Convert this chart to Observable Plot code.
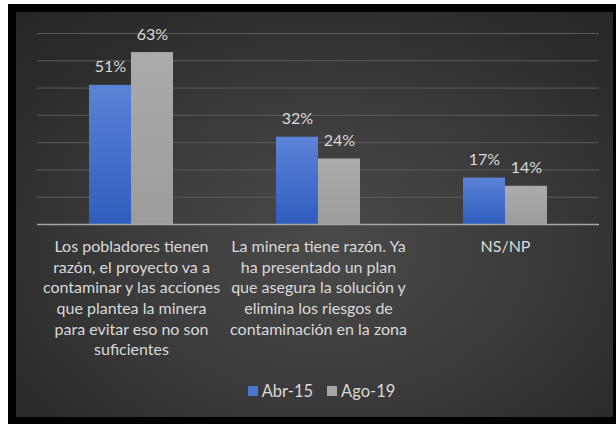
<!DOCTYPE html>
<html>
<head>
<meta charset="utf-8">
<script src="https://cdn.jsdelivr.net/npm/d3@7"></script>
<script src="https://cdn.jsdelivr.net/npm/@observablehq/plot@0.6"></script>
<style>
  html, body { margin: 0; padding: 0; background: #ffffff; width: 616px; height: 424px; overflow: hidden; }
  #frame { position: absolute; left: 8px; top: 4px; width: 608px; height: 420px; background: #000; }
  #panel { position: absolute; left: 16px; top: 12px; width: 597px; height: 405px;
    background: radial-gradient(ellipse 75% 80% at 52% 58%, #4a4a4a 0%, #3d3d3d 40%, #2c2c2c 80%, #262626 100%); }
  #chart { position: absolute; left: 0; top: 0; }
  #legend { position: absolute; left: 0; top: 381px; width: 616px; display: flex; justify-content: center;
    font-family: Lato, sans-serif; font-size: 16.5px; color: #d9d9d9; padding-left: 27px; box-sizing: border-box; }
  .item { display: flex; align-items: center; margin: 0 7px; }
  .sw { width: 10px; height: 10px; margin-right: 4px; }
</style>
</head>
<body>
<div id="frame"></div>
<div id="panel"></div>
<div id="chart"></div>
<div id="legend"></div>
<script>
const categories = [
  "Los pobladores tienen\nrazón, el proyecto va a\ncontaminar y las acciones\nque plantea la minera\npara evitar eso no son\nsuficientes",
  "La minera tiene razón. Ya\nha presentado un plan\nque asegura la solución y\nelimina los riesgos de\ncontaminación en la zona",
  "NS/NP"
];
const series = ["Abr-15", "Ago-19"];
const abr15 = [51, 32, 17];
const ago19 = [63, 24, 14];
const yTicks = [10, 20, 30, 40, 50, 60, 70];
const colors = ["#4a75cf", "#a6a6a6"];

const rowsA = categories.map((c, i) => ({cat: c, value: abr15[i]}));
const rowsB = categories.map((c, i) => ({cat: c, value: ago19[i]}));

const font = "Lato, sans-serif";
const plot = Plot.plot({
  width: 616,
  height: 424,
  marginLeft: 37,
  marginRight: 17,
  marginTop: 33,
  marginBottom: 200,
  style: {background: "transparent", fontFamily: font},
  x: {domain: categories, paddingInner: 0.551, paddingOuter: 0.2755, axis: null},
  y: {domain: [0, 70], axis: null},
  marks: [
    Plot.ruleY(yTicks, {stroke: "#5a5a5a", strokeWidth: 1}),
    Plot.barY(rowsA, {x: "cat", y: "value", fill: "url(#gBlue)", insetRight: 42}),
    Plot.barY(rowsB, {x: "cat", y: "value", fill: "url(#gGray)", insetLeft: 42}),
    Plot.ruleY([0], {stroke: "#a6a6a6", strokeWidth: 1.5}),
    Plot.text(rowsA, {x: "cat", y: "value", text: d => d.value + "%", dx: -21, dy: -18, fill: "#d9d9d9", fontSize: 16}),
    Plot.text(rowsB, {x: "cat", y: "value", text: d => d.value + "%", dx: 21, dy: -18, fill: "#d9d9d9", fontSize: 16}),
    Plot.text(categories, {x: d => d, y: 0, text: d => d, lineAnchor: "top", dy: 13, lineHeight: 1.29, fill: "#d9d9d9", fontSize: 16})
  ]
});

const defs = d3.select(plot).insert("defs", ":first-child");
const gb = defs.append("linearGradient").attr("id", "gBlue").attr("x1", 0).attr("y1", 0).attr("x2", 0).attr("y2", 1);
gb.append("stop").attr("offset", "0%").attr("stop-color", "#5b83d6");
gb.append("stop").attr("offset", "100%").attr("stop-color", "#2f5ebf");
const gg = defs.append("linearGradient").attr("id", "gGray").attr("x1", 0).attr("y1", 0).attr("x2", 0).attr("y2", 1);
gg.append("stop").attr("offset", "0%").attr("stop-color", "#ababab");
gg.append("stop").attr("offset", "100%").attr("stop-color", "#9c9c9c");

document.getElementById("chart").appendChild(plot);

const legend = d3.select("#legend");
series.forEach((s, i) => {
  const it = legend.append("div").attr("class", "item");
  it.append("div").attr("class", "sw").style("background", colors[i]);
  it.append("span").text(s);
});
</script>
</body>
</html>
